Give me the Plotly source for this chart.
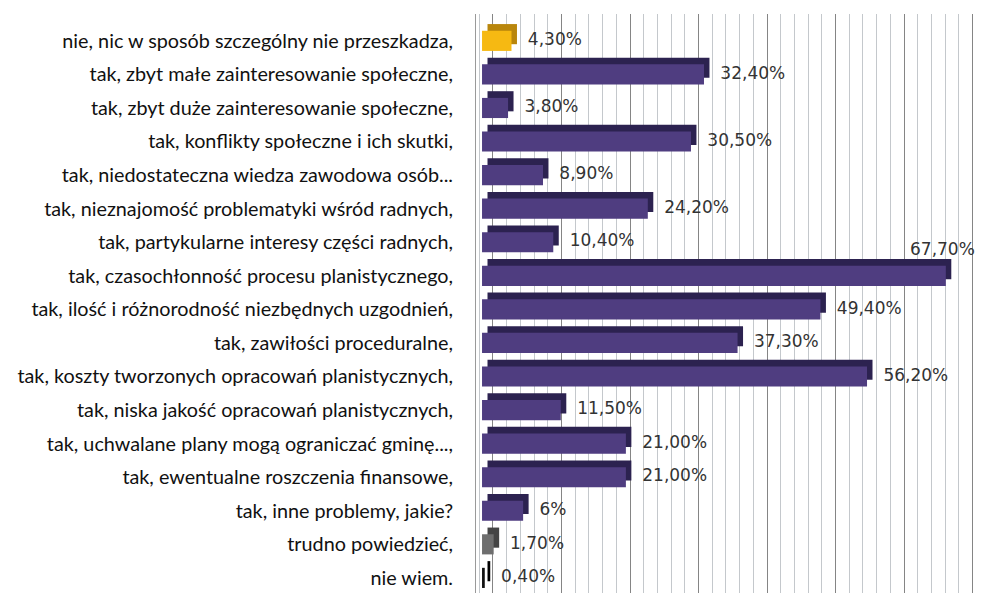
import plotly.graph_objects as go

categories = [
    "nie, nic w sposób szczególny nie przeszkadza,",
    "tak, zbyt małe zainteresowanie społeczne,",
    "tak, zbyt duże zainteresowanie społeczne,",
    "tak, konflikty społeczne i ich skutki,",
    "tak, niedostateczna wiedza zawodowa osób...",
    "tak, nieznajomość problematyki wśród radnych,",
    "tak, partykularne interesy części radnych,",
    "tak, czasochłonność procesu planistycznego,",
    "tak, ilość i różnorodność niezbędnych uzgodnień,",
    "tak, zawiłości proceduralne,",
    "tak, koszty tworzonych opracowań planistycznych,",
    "tak, niska jakość opracowań planistycznych,",
    "tak, uchwalane plany mogą ograniczać gminę...,",
    "tak, ewentualne roszczenia finansowe,",
    "tak, inne problemy, jakie?",
    "trudno powiedzieć,",
    "nie wiem.",
]
values = [4.3, 32.4, 3.8, 30.5, 8.9, 24.2, 10.4, 67.7, 49.4, 37.3, 56.2,
          11.5, 21.0, 21.0, 6.0, 1.7, 0.4]
value_labels = ["4,30%", "32,40%", "3,80%", "30,50%", "8,90%", "24,20%", "10,40%",
                "67,70%", "49,40%", "37,30%", "56,20%", "11,50%", "21,00%",
                "21,00%", "6%", "1,70%", "0,40%"]

PURPLE, PURPLE_DARK = "#4f3d80", "#2c2250"
front_colors = ["#f6b912"] + [PURPLE] * 14 + ["#6e6e6e", "#111111"]
side_colors = ["#b9860c"] + [PURPLE_DARK] * 14 + ["#444444", "#000000"]

# 3D look: a dark "depth" bar behind, the front face shifted left/down
DEPTH = 0.8
FRONT_SHIFT = -1.6
BAR_W = 0.6

fig = go.Figure()
fig.add_trace(go.Bar(
    y=categories, x=values, base=FRONT_SHIFT + DEPTH, orientation="h",
    width=BAR_W, offset=-BAR_W / 2 - 0.2,
    marker=dict(color=side_colors, line=dict(width=0)),
    hoverinfo="skip", showlegend=False,
))
fig.add_trace(go.Bar(
    y=categories, x=values, base=FRONT_SHIFT, orientation="h",
    width=BAR_W, offset=-BAR_W / 2,
    marker=dict(color=front_colors, line=dict(width=0)),
    showlegend=False,
))

# value labels; the longest bar gets its label above the bar instead
imax = values.index(max(values))
lab_y = [c for i, c in enumerate(categories) if i != imax]
lab_x = [v for i, v in enumerate(values) if i != imax]
lab_t = [" " + t for i, t in enumerate(value_labels) if i != imax]
label_font = dict(family="DejaVu Sans", size=17, color="#333333")
fig.add_trace(go.Scatter(
    y=lab_y, x=lab_x, mode="text", text=lab_t,
    textposition="middle right", cliponaxis=False,
    textfont=label_font, hoverinfo="skip", showlegend=False,
))
fig.add_annotation(
    x=values[imax], y=categories[imax], text=value_labels[imax],
    showarrow=False, xanchor="center", yanchor="middle",
    xshift=-14, yshift=27, font=label_font,
)

fig.update_layout(
    width=977, height=585,
    margin=dict(l=468, r=10, t=6, b=0),
    plot_bgcolor="white", paper_bgcolor="white",
    barmode="overlay",
    font=dict(family="Lato, sans-serif", size=19.8, color="#111111"),
)
fig.update_xaxes(
    range=[-2.48, 70.36], dtick=10, tick0=0, showticklabels=False,
    showgrid=True, gridcolor="#858585", gridwidth=1, zeroline=False,
    minor=dict(dtick=2, showgrid=True, gridcolor="#c4c8cc", gridwidth=1),
)
fig.update_yaxes(
    type="category", range=[16.45, -0.8], showgrid=False,
    showline=True, linecolor="#9a9a9a", linewidth=1,
    ticks="", ticklabelstandoff=18,
)

fig.write_html("out.html")
